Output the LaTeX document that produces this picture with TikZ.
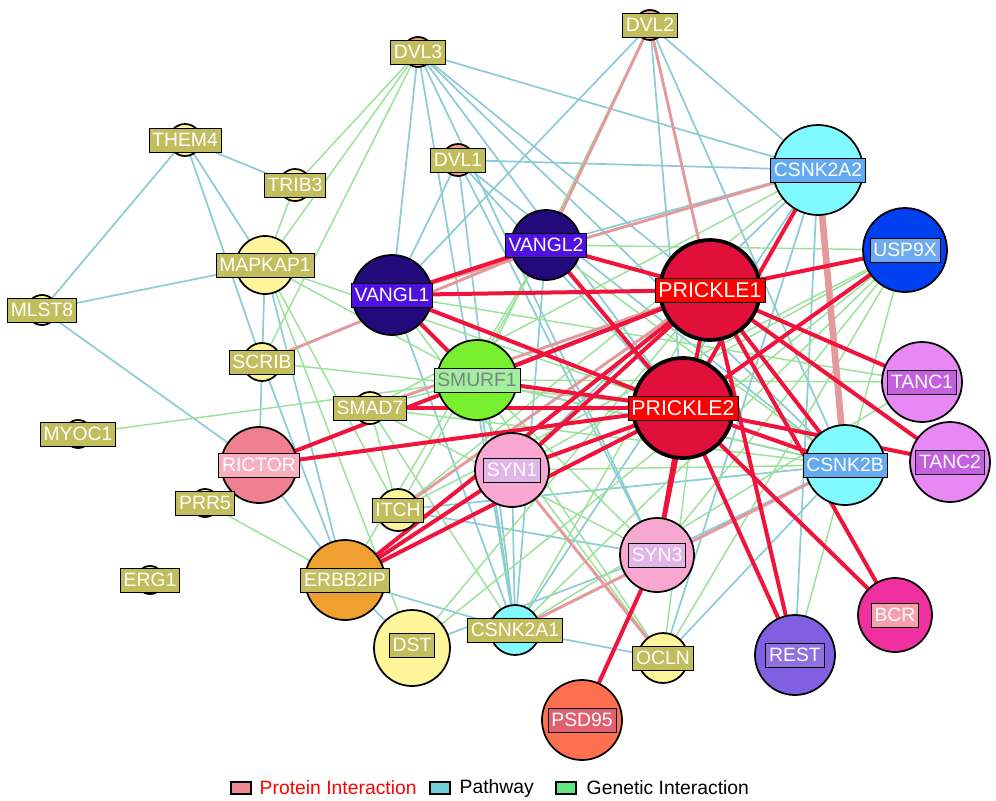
\documentclass[tikz,border=0pt]{standalone}
\usepackage{fontspec}
\setmainfont{Liberation Sans}
\begin{document}
\begin{tikzpicture}[x=0.75pt,y=-0.75pt,
 ci/.style={circle,draw=black,line width=1.3pt,minimum size=#1*0.75pt,inner sep=0pt},
 lb/.style={draw=black,line width=0.6pt,fill=olive1,text=white,font=\fontsize{14.5}{16}\selectfont,inner sep=2.5pt,minimum height=18pt},
 pr/.style={draw=red1,line width=3pt},
 pf/.style={draw=pink1,line width=2.2pt},
 pw/.style={draw=blue1,line width=1.3pt},
 gn/.style={draw=green1,line width=1.1pt}]
\definecolor{olive1}{HTML}{C2BE5E}
\definecolor{red1}{HTML}{F0143C}
\definecolor{pink1}{HTML}{E49A9C}
\definecolor{blue1}{HTML}{8CCCD4}
\definecolor{green1}{HTML}{9AE29A}
\definecolor{yel}{HTML}{FFF59A}
\definecolor{sal}{HTML}{F4A07A}
\definecolor{cyn}{HTML}{80FAFF}
\definecolor{crim}{HTML}{E0103A}
\definecolor{indi}{HTML}{220A7A}
\definecolor{viol}{HTML}{E888F4}
\useasboundingbox (0,0) rectangle (996,800);
\foreach \n/\x/\y in {DVLb/650/25,DVLc/418/52,THEM/185/140,TRIB/295/185,DVLa/458/160,CKAA/818/170,USP/905/250,VG2/546/245,P1/710/290,MAPK/265/265,VG1/392/295,MLST/42/310,SCRIB/262/362,SMURF/477/380,P2/683/408,TANCa/922/382,SMAD/370/408,MYOC/78/434,RIC/259/465,SYNa/512/470,TANCb/950/462,ITCH/398/510,PRR/205/503,SYNc/657/555,ERG/150/580,ERBB/345/580,BCR/895/615,DST/412/648,CKA/515/630,OCLN/663/658,REST/795/655,PSD/582/720}
 \coordinate (\n) at (\x,\y);
\coordinate (CKB) at (845,465);
\foreach \a/\b in {THEM/MLST,THEM/MAPK,THEM/SCRIB,THEM/TRIB,MLST/MAPK,MLST/RIC,MAPK/RIC,MAPK/ERBB,SCRIB/ERBB,DVLc/CKAA,DVLc/P1,DVLc/CKB,DVLc/P2,DVLc/SYNc,DVLc/VG1,DVLc/CKA,DVLb/CKAA,DVLb/VG1,DVLb/CKB,DVLb/P2,DVLa/CKAA,DVLa/CKB,DVLa/P2,DVLa/CKA,DVLa/VG1,DVLa/SYNc,CKAA/VG2,CKAA/CKA,CKAA/REST,CKAA/SYNa,CKAA/OCLN,CKAA/P2,CKB/CKA,CKB/ITCH,CKB/OCLN,CKB/SYNc,CKB/SMURF,SYNa/CKA,SMURF/CKA,ERBB/DST,ERBB/CKA,CKA/OCLN,ITCH/SYNc,VG1/CKA,VG2/P2,VG2/CKA,RIC/ERBB,DST/SYNc}
 \draw[pw] (\a) -- (\b);
\foreach \a/\b in {DVLc/TRIB,DVLc/MAPK,DVLc/SCRIB,DVLb/SMURF,TRIB/MAPK,MAPK/SMURF,MAPK/P2,MAPK/ITCH,MAPK/DST,SCRIB/P2,SMAD/CKAA,SMAD/P1,SMAD/P2,SMAD/CKB,SMAD/SYNc,MYOC/SMURF,PRR/ERBB,ITCH/CKAA,ITCH/P1,ITCH/USP,ITCH/VG2,RIC/SMURF,SYNa/USP,SYNa/CKB,SYNc/USP,CKA/USP,CKA/P1,CKA/TANCa,OCLN/USP,OCLN/P1,DST/P1,DST/USP,SMURF/CKB,SMURF/TANCa,SMURF/OCLN,VG1/SYNc,VG1/OCLN,VG1/CKAA,VG1/TANCa,VG2/ERBB,VG2/USP,ERBB/P1,ITCH/SMAD,SMAD/SMURF,REST/USP,CKB/VG2,SYNa/OCLN,CKA/SMAD}
 \draw[gn] (\a) -- (\b);
\draw[pink1,line width=5pt] (CKAA) -- (CKB);
\foreach \a/\b in {DVLb/VG2,DVLb/P1,SCRIB/VG2,ITCH/P1,CKA/CKB,SMAD/P1,SYNa/OCLN,CKAA/VG1}
 \draw[pf] (\a) -- (\b);
\foreach \a/\b in {P1/VG1,P1/VG2,P1/USP,P1/SMURF,P1/ERBB,P1/SYNa,P1/SYNc,P1/REST,P1/BCR,P1/CKB,P1/TANCa,P1/TANCb,P1/RIC,P2/VG1,P2/VG2,P2/SMURF,P2/RIC,P2/ERBB,P2/SYNa,P2/SYNc,P2/REST,P2/BCR,P2/TANCb,P2/USP,P2/CKB,P2/SMAD,SYNc/PSD,VG1/VG2,VG1/SMURF,ERBB/SYNa,P2/CKAA}
 \draw[pr] (\a) -- (\b);
\newcommand\gnode[7]{\node[ci=#2,fill=#3] (#1c) at (#1) {}; \node[lb,fill=#4,text=#5] (#1l) at ([yshift=#7]#1) {#6};}
\gnode{DVLb}{30}{sal}{olive1}{white}{DVL2}{0}
\gnode{DVLc}{30}{sal}{olive1}{white}{DVL3}{0}
\gnode{THEM}{32}{yel}{olive1}{white}{THEM4}{0}
\gnode{TRIB}{32}{yel}{olive1}{white}{TRIB3}{0}
\gnode{DVLa}{32}{sal}{olive1}{white}{DVL1}{0}
\gnode{CKAA}{90}{cyn}{{rgb,255:red,100;green,170;blue,240}}{white}{CSNK2A2}{0}
\gnode{USP}{84}{{rgb,255:red,0;green,64;blue,240}}{{rgb,255:red,110;green,170;blue,240}}{white}{USP9X}{0}
\gnode{VG2}{70}{indi}{{rgb,255:red,80;green,16;blue,224}}{white}{VANGL2}{0}
\gnode{MAPK}{58}{yel}{olive1}{white}{MAPKAP1}{0}
\gnode{VG1}{80}{indi}{{rgb,255:red,80;green,16;blue,224}}{white}{VANGL1}{0}
\gnode{MLST}{30}{yel}{olive1}{white}{MLST8}{0}
\gnode{SCRIB}{38}{yel}{olive1}{white}{SCRIB}{0}
\gnode{SMURF}{80}{{rgb,255:red,120;green,240;blue,48}}{{rgb,255:red,160;green,240;blue,160}}{gray}{SMURF1}{0}
\gnode{TANCa}{80}{viol}{{rgb,255:red,196;green,96;blue,224}}{white}{TANC1}{0}
\gnode{SMAD}{32}{yel}{olive1}{white}{SMAD7}{0}
\gnode{MYOC}{28}{yel}{olive1}{white}{MYOC1}{0}
\gnode{RIC}{76}{{rgb,255:red,240;green,128;blue,144}}{{rgb,255:red,248;green,176;blue,192}}{white}{RICTOR}{0}
\gnode{SYNa}{74}{{rgb,255:red,248;green,168;blue,208}}{{rgb,255:red,226;green,180;blue,232}}{white}{SYN1}{0}
\gnode{TANCb}{80}{viol}{{rgb,255:red,196;green,96;blue,224}}{white}{TANC2}{0}
\gnode{CKB}{80}{cyn}{{rgb,255:red,100;green,170;blue,240}}{white}{CSNK2B}{0}
\gnode{ITCH}{42}{yel}{olive1}{white}{ITCH}{0}
\gnode{PRR}{28}{yel}{olive1}{white}{PRR5}{0}
\gnode{SYNc}{74}{{rgb,255:red,248;green,168;blue,208}}{{rgb,255:red,226;green,180;blue,232}}{white}{SYN3}{0}
\gnode{ERG}{28}{yel}{olive1}{white}{ERG1}{0}
\gnode{ERBB}{80}{{rgb,255:red,240;green,160;blue,48}}{olive1}{white}{ERBB2IP}{0}
\gnode{BCR}{74}{{rgb,255:red,240;green,48;blue,160}}{{rgb,255:red,244;green,160;blue,176}}{white}{BCR}{0}
\gnode{DST}{76}{yel}{olive1}{white}{DST}{2}
\gnode{CKA}{50}{cyn}{olive1}{white}{CSNK2A1}{0}
\gnode{OCLN}{50}{yel}{olive1}{white}{OCLN}{0}
\gnode{REST}{80}{{rgb,255:red,128;green,96;blue,224}}{{rgb,255:red,144;green,112;blue,224}}{white}{REST}{0}
\gnode{PSD}{80}{{rgb,255:red,255;green,112;blue,80}}{{rgb,255:red,224;green,96;blue,112}}{white}{PSD95}{0}
\node[ci=100,fill=crim,line width=2.8pt] (P1c) at (P1) {};
\node[lb,fill=red,font=\fontsize{16}{18}\selectfont] (P1l) at (P1) {PRICKLE1};
\node[ci=100,fill=crim,line width=2.8pt] (P2c) at (P2) {};
\node[lb,fill=red,font=\fontsize{16}{18}\selectfont] (P2l) at (P2) {PRICKLE2};
\tikzset{lg/.style={draw=black,line width=1pt,minimum width=15pt,minimum height=9pt,inner sep=0pt}}
\node[lg,fill={rgb,255:red,240;green,136;blue,144}] (L1) at (241,788) {};
\node[anchor=west,text=red,font=\fontsize{14.5}{17}\selectfont] (T1) at (255,788) {Protein Interaction};
\node[lg,fill={rgb,255:red,116;green,208;blue,216}] (L2) at (440,788) {};
\node[anchor=west,font=\fontsize{14.5}{17}\selectfont] (T2) at (455,788) {Pathway};
\node[lg,fill={rgb,255:red,96;green,232;blue,128}] (L3) at (566,788) {};
\node[anchor=west,font=\fontsize{14.5}{17}\selectfont] (T3) at (582,788) {Genetic Interaction};
\end{tikzpicture}
\end{document}
